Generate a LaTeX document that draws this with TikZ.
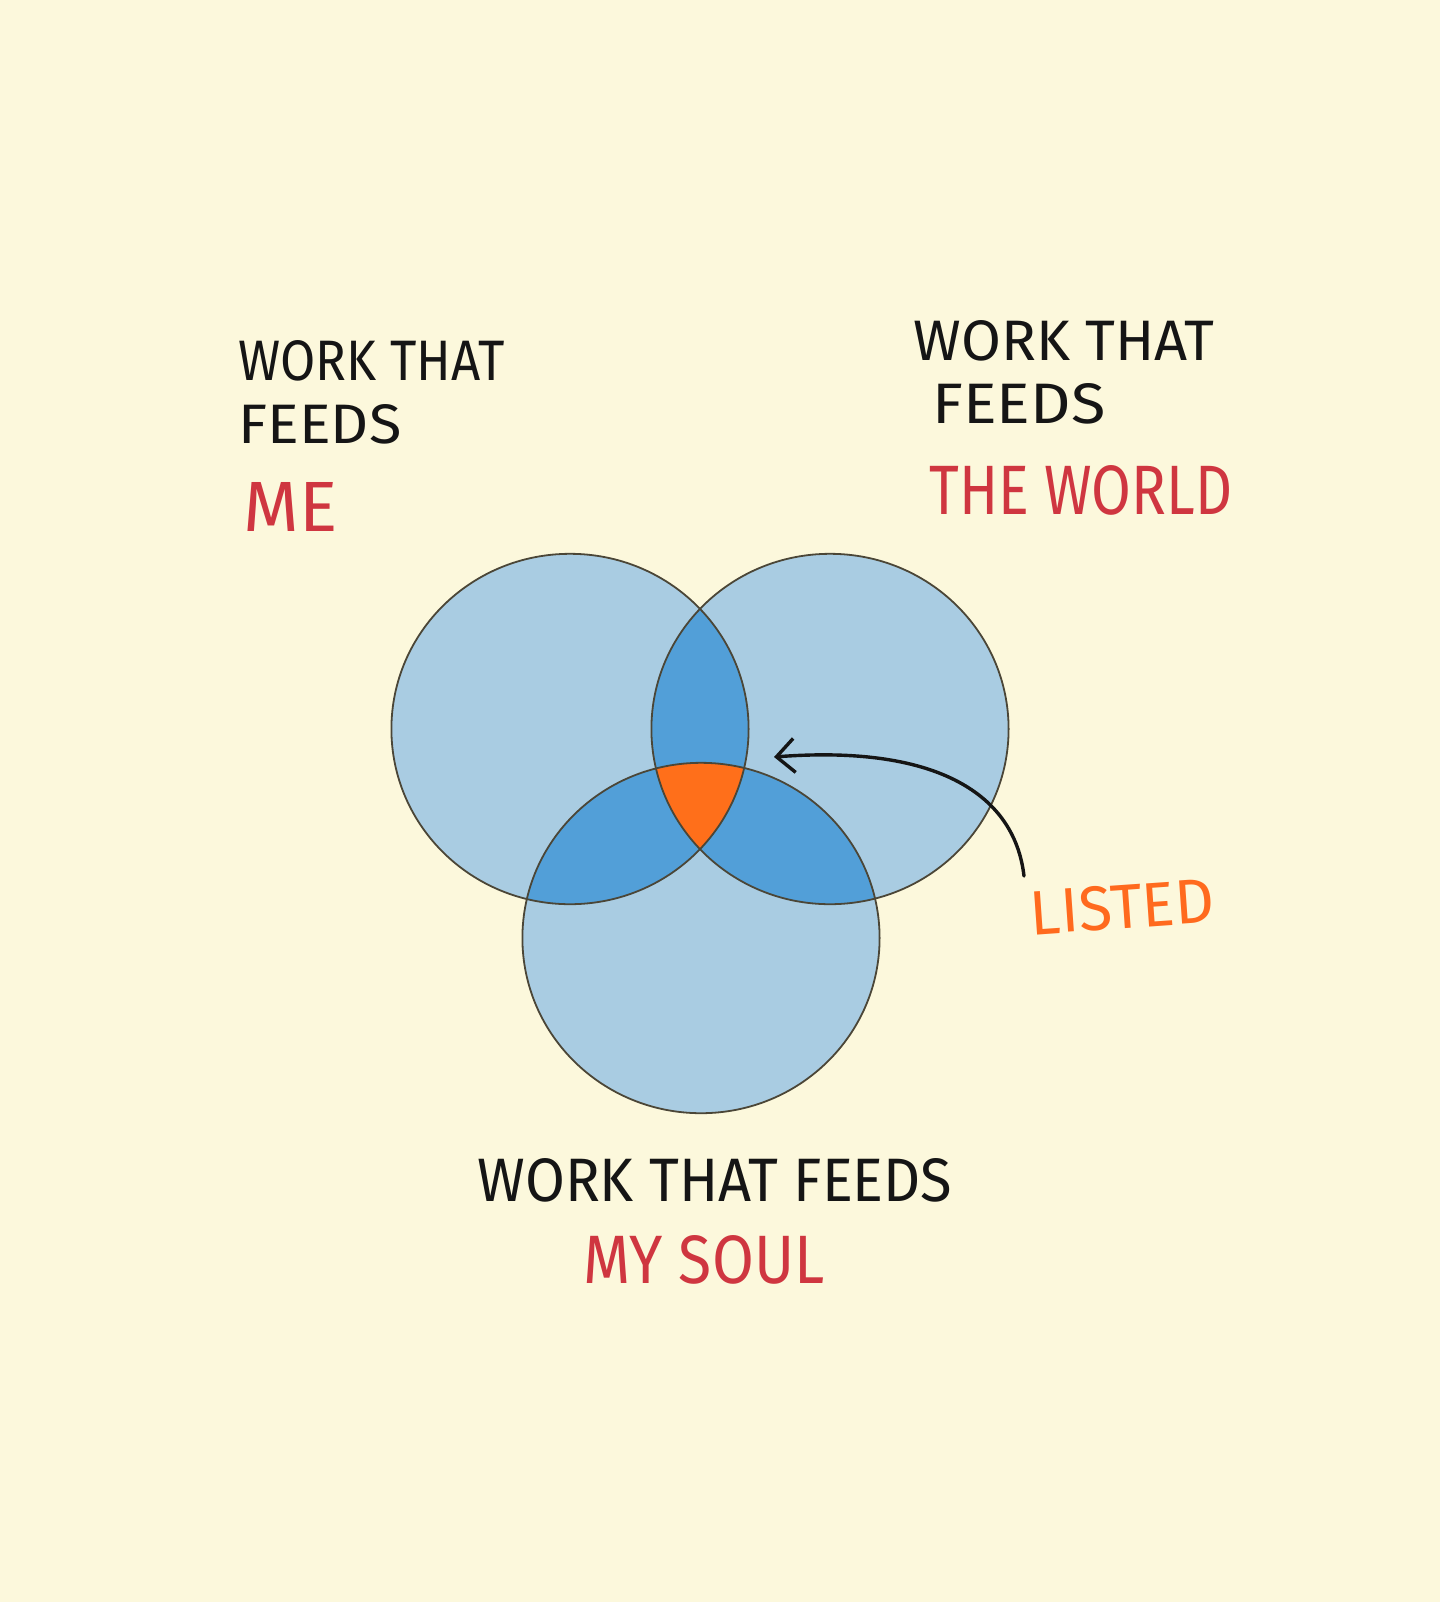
\documentclass[tikz,border=0pt]{standalone}
\usepackage{fontspec}
\setmainfont{Fira Sans}
\usetikzlibrary{arrows.meta}
\definecolor{bg}{HTML}{FCF8DC}
\definecolor{lightblue}{HTML}{A9CCE2}
\definecolor{midblue}{HTML}{529FD8}
\definecolor{coreorange}{HTML}{FF6F1A}
\definecolor{outline}{HTML}{4B4637}
\definecolor{inkblack}{HTML}{151515}
\definecolor{inkred}{HTML}{CF3640}
\definecolor{inkorange}{HTML}{FF6A1E}
\newcommand{\fittext}[3]{\resizebox{#1}{#2}{#3}}
\tikzset{
  lbl/.style={inner sep=0pt, anchor=north west},
  circline/.style={draw=outline, line width=0.9pt},
  pointer/.style={draw=inkblack, line width=1.7pt, line cap=round,
    -{Straight Barb[length=9pt,width=17pt,line width=1.7pt]}}
}
\begin{document}
\begin{tikzpicture}[x=0.5pt,y=-0.5pt]
\fill[bg] (0,0) rectangle (1440,1602);
\useasboundingbox (0,0) rectangle (1440,1602);
\def\shp{ellipse[x radius=89.3pt, y radius=87.6pt]}
\coordinate (cL) at (570,729);
\coordinate (cR) at (830,729);
\coordinate (cB) at (701,938);
% base fills
\fill[lightblue] (cL) \shp;
\fill[lightblue] (cR) \shp;
\fill[lightblue] (cB) \shp;
% pairwise overlaps
\begin{scope}
  \clip (cL) \shp;
  \fill[midblue] (cR) \shp;
  \fill[midblue] (cB) \shp;
\end{scope}
\begin{scope}
  \clip (cR) \shp;
  \fill[midblue] (cB) \shp;
\end{scope}
% triple overlap
\begin{scope}
  \clip (cL) \shp;
  \clip (cR) \shp;
  \fill[coreorange] (cB) \shp;
\end{scope}
% outlines
\draw[circline] (cL) \shp;
\draw[circline] (cR) \shp;
\draw[circline] (cB) \shp;
% labels
\node[lbl, text=inkblack] (l1) at (238,340) {\fittext{133pt}{20pt}{WORK THAT}};
\node[lbl, text=inkblack] (l2) at (238,404) {\fittext{81.5pt}{19.5pt}{FEEDS}};
\node[lbl, text=inkred]   (l3) at (243,482) {\fittext{47pt}{24.5pt}{ME}};
\node[lbl, text=inkblack] (r1) at (913,320) {\fittext{150.5pt}{20pt}{WORK THAT}};
\node[lbl, text=inkblack] (r2) at (932,383) {\fittext{86.5pt}{20pt}{FEEDS}};
\node[lbl, text=inkred]   (r3) at (929,465) {\fittext{151.5pt}{24.5pt}{THE WORLD}};
\node[lbl, text=inkblack] (b1) at (477,1158) {\fittext{237.5pt}{21.5pt}{WORK THAT FEEDS}};
\node[lbl, text=inkred]   (b2) at (583,1235) {\fittext{120.5pt}{24pt}{MY SOUL}};
\node[inner sep=0pt, text=inkorange, rotate=4] (listed) at (1122,907) {\fittext{92pt}{22pt}{LISTED}};
% arrow
\coordinate (astart) at (1024,876);
\coordinate (atip) at (774,757);
\draw[pointer] (astart) .. controls (1014,790) and (930,745) .. (atip);
\end{tikzpicture}
\end{document}
